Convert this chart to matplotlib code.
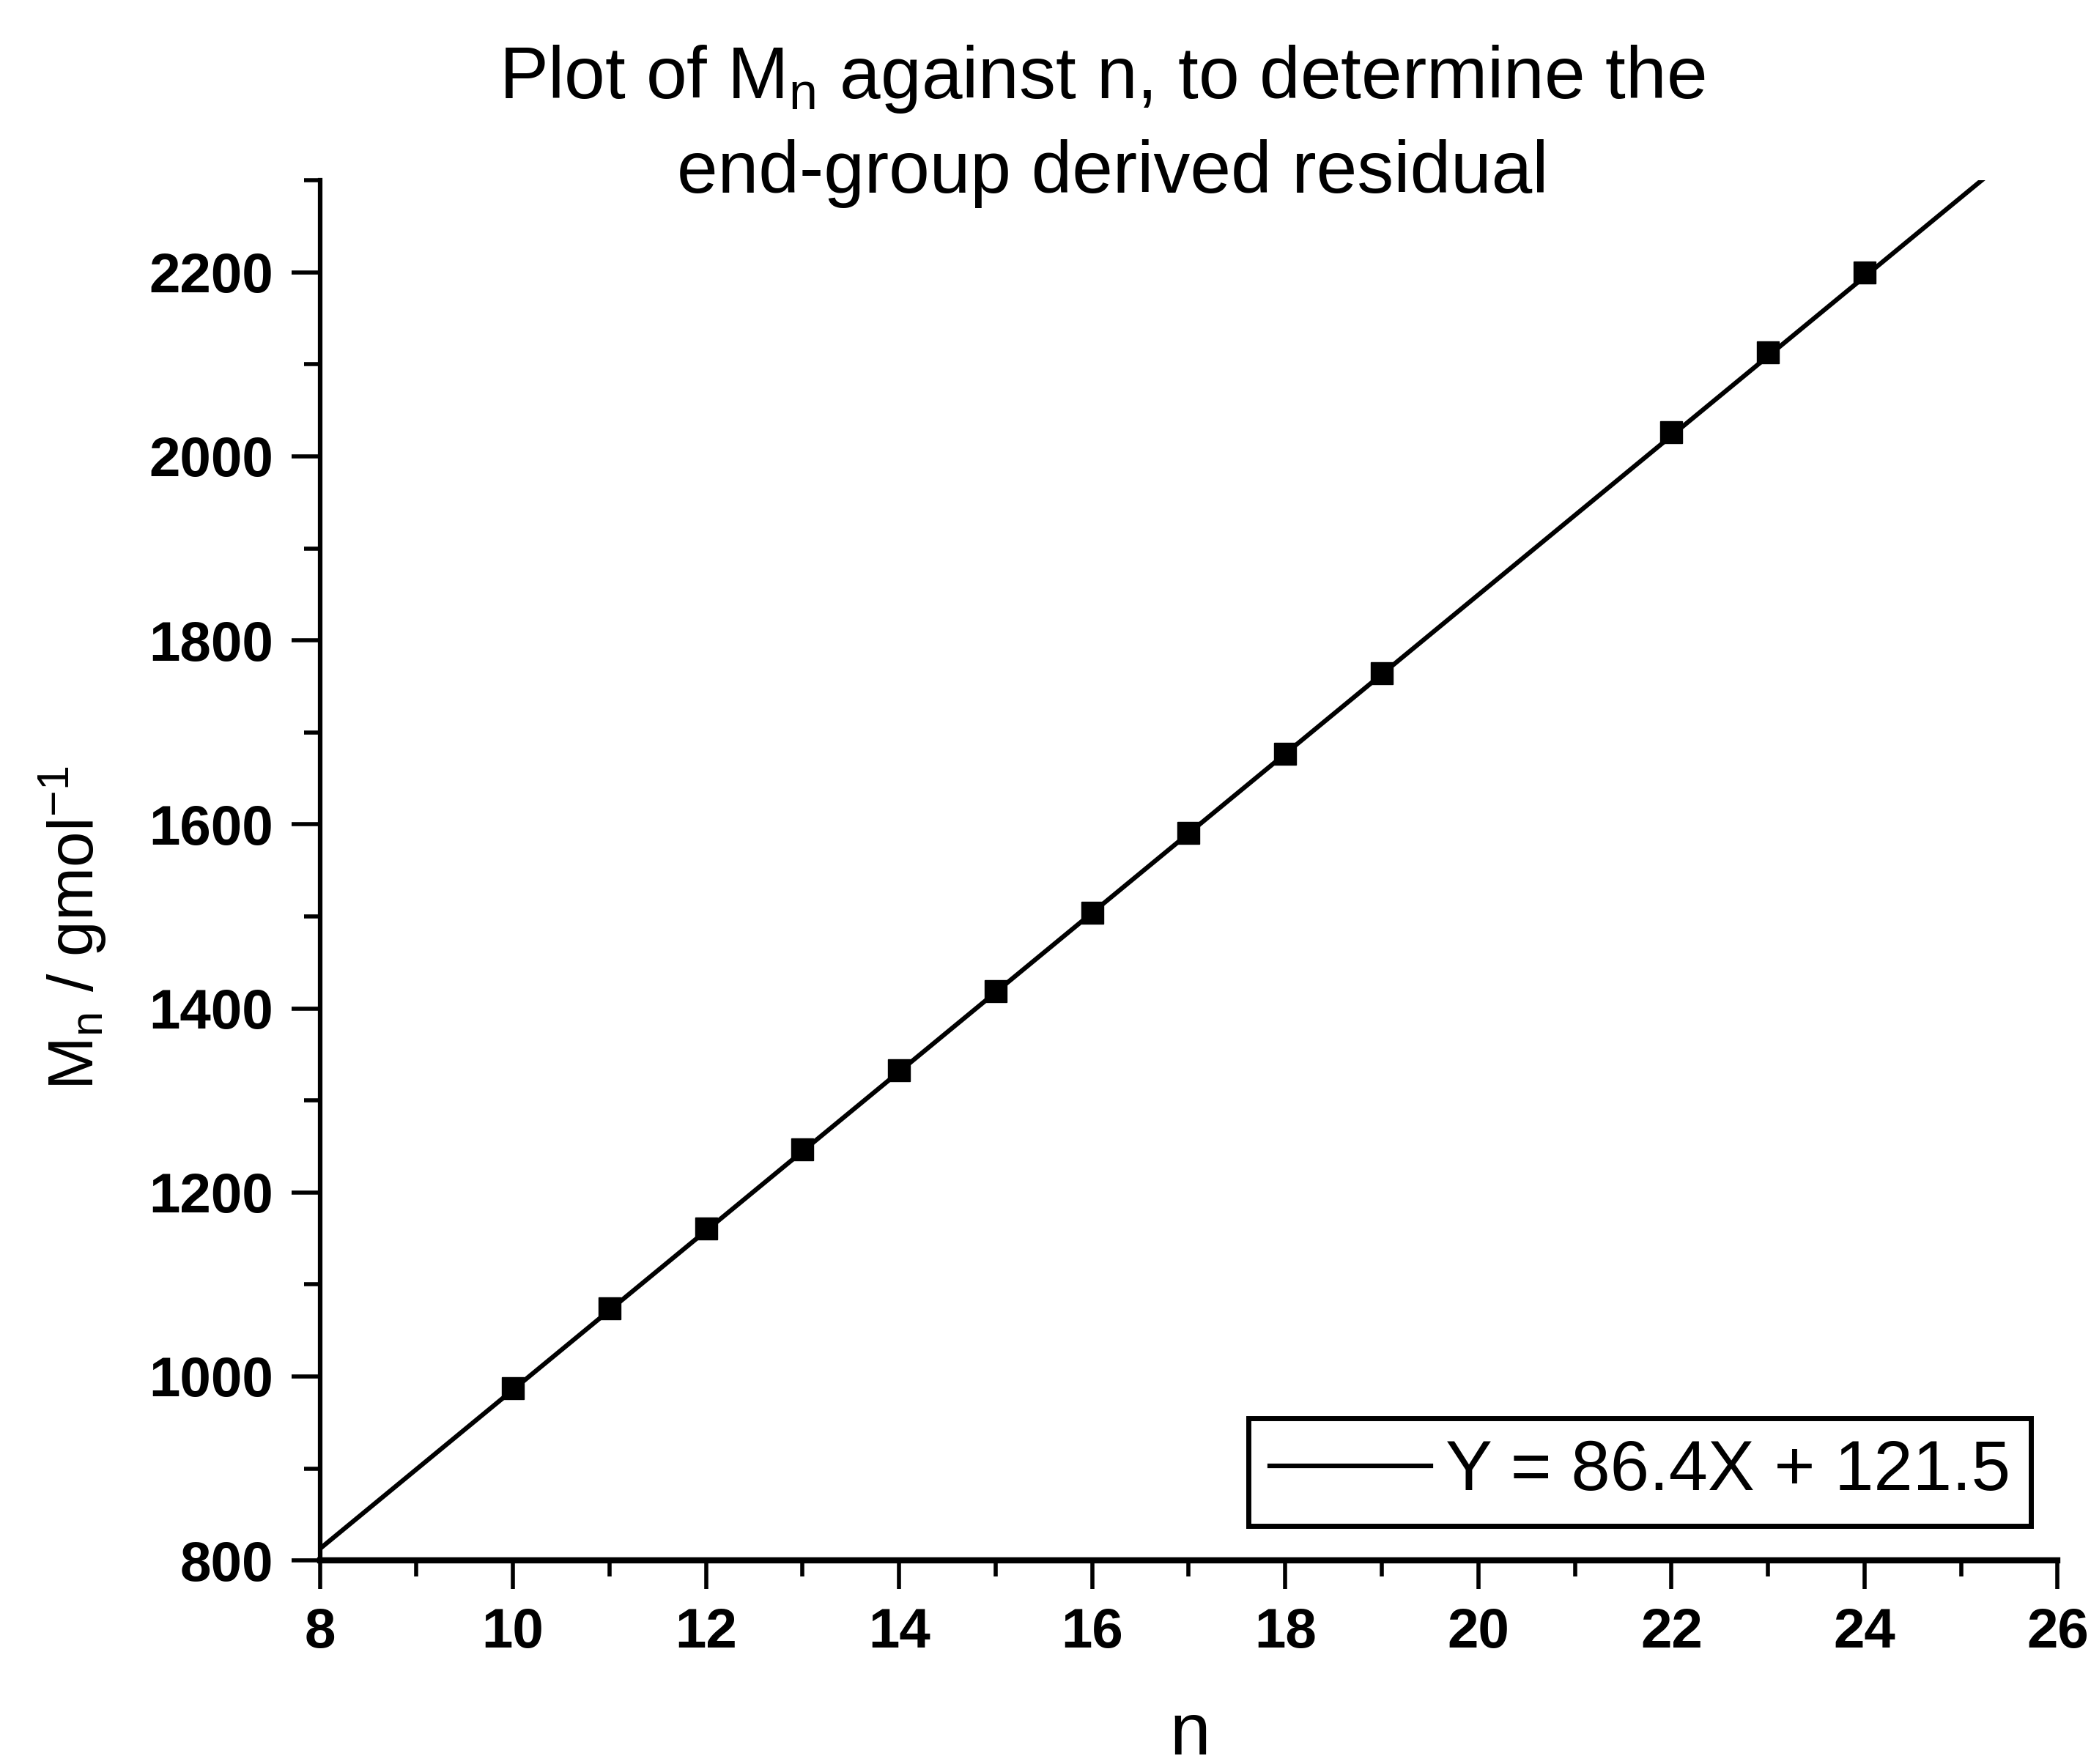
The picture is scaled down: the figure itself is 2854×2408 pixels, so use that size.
import numpy as np
import matplotlib
matplotlib.use("Agg")
import matplotlib.pyplot as plt
from matplotlib.ticker import MultipleLocator

plt.rcParams['font.family'] = ['Liberation Sans', 'DejaVu Sans']
plt.rcParams['mathtext.default'] = 'regular'

# chain length n and measured Mn
n_vals = [10, 11, 12, 13, 14, 15, 16, 17, 18, 19, 22, 23, 24]
mn_vals = [987, 1074, 1161, 1247, 1333, 1419, 1504, 1591, 1677, 1764, 2026, 2113, 2200]

# linear fit Y = slope*X + intercept
slope = 86.4
intercept = 121.5
fit_x = [8, 26]

fig = plt.figure(figsize=(28.54, 24.08), dpi=100)
ax = fig.add_axes([0.153, 0.1154, 0.831, 0.7824])

xs = np.array(fit_x, dtype=float)
ax.plot(xs, slope * xs + intercept, color='black', lw=4.5,
        label='Y = %.1fX + %.1f' % (slope, intercept), zorder=2)
ax.plot(n_vals, mn_vals, ls='none', marker='s', ms=21, color='black', zorder=3)

ax.set_xlim(8, 26)
ax.set_ylim(800, 2300)
ax.xaxis.set_major_locator(MultipleLocator(2))
ax.xaxis.set_minor_locator(MultipleLocator(1))
ax.yaxis.set_minor_locator(MultipleLocator(100))
ax.set_yticks([800, 1000, 1200, 1400, 1600, 1800, 2000, 2200])

ax.spines['top'].set_visible(False)
ax.spines['right'].set_visible(False)
ax.spines['left'].set_linewidth(4.5)
ax.spines['bottom'].set_linewidth(6)

ax.tick_params(which='major', direction='out', length=28, width=4,
               labelsize=55, pad=18)
ax.tick_params(which='minor', direction='out', length=16, width=4)
for lab in ax.get_xticklabels() + ax.get_yticklabels():
    lab.set_fontweight('bold')

leg = ax.legend(loc='lower right', bbox_to_anchor=(0.9848, 0.025),
                borderaxespad=0, fontsize=69, frameon=True, fancybox=False,
                handlelength=2.3, handletextpad=0.2, borderpad=0.3)
leg.get_frame().set_edgecolor('black')
leg.get_frame().set_linewidth(5)
leg.get_frame().set_alpha(None)

fig.text(0.527, 0.955, 'Plot of M$_n$ against n, to determine the',
         ha='center', va='center', fontsize=72)
fig.text(0.532, 0.9016, 'end-group derived residual',
         ha='center', va='center', fontsize=72)

fig.text(0.035, 0.474, 'M$_n$ / gmol$^{-1}$', rotation=90,
         ha='center', va='center', fontsize=63)
fig.text(0.569, 0.016, 'n', ha='center', va='center', fontsize=72)

fig.savefig('out.png', dpi=100, facecolor='white')
